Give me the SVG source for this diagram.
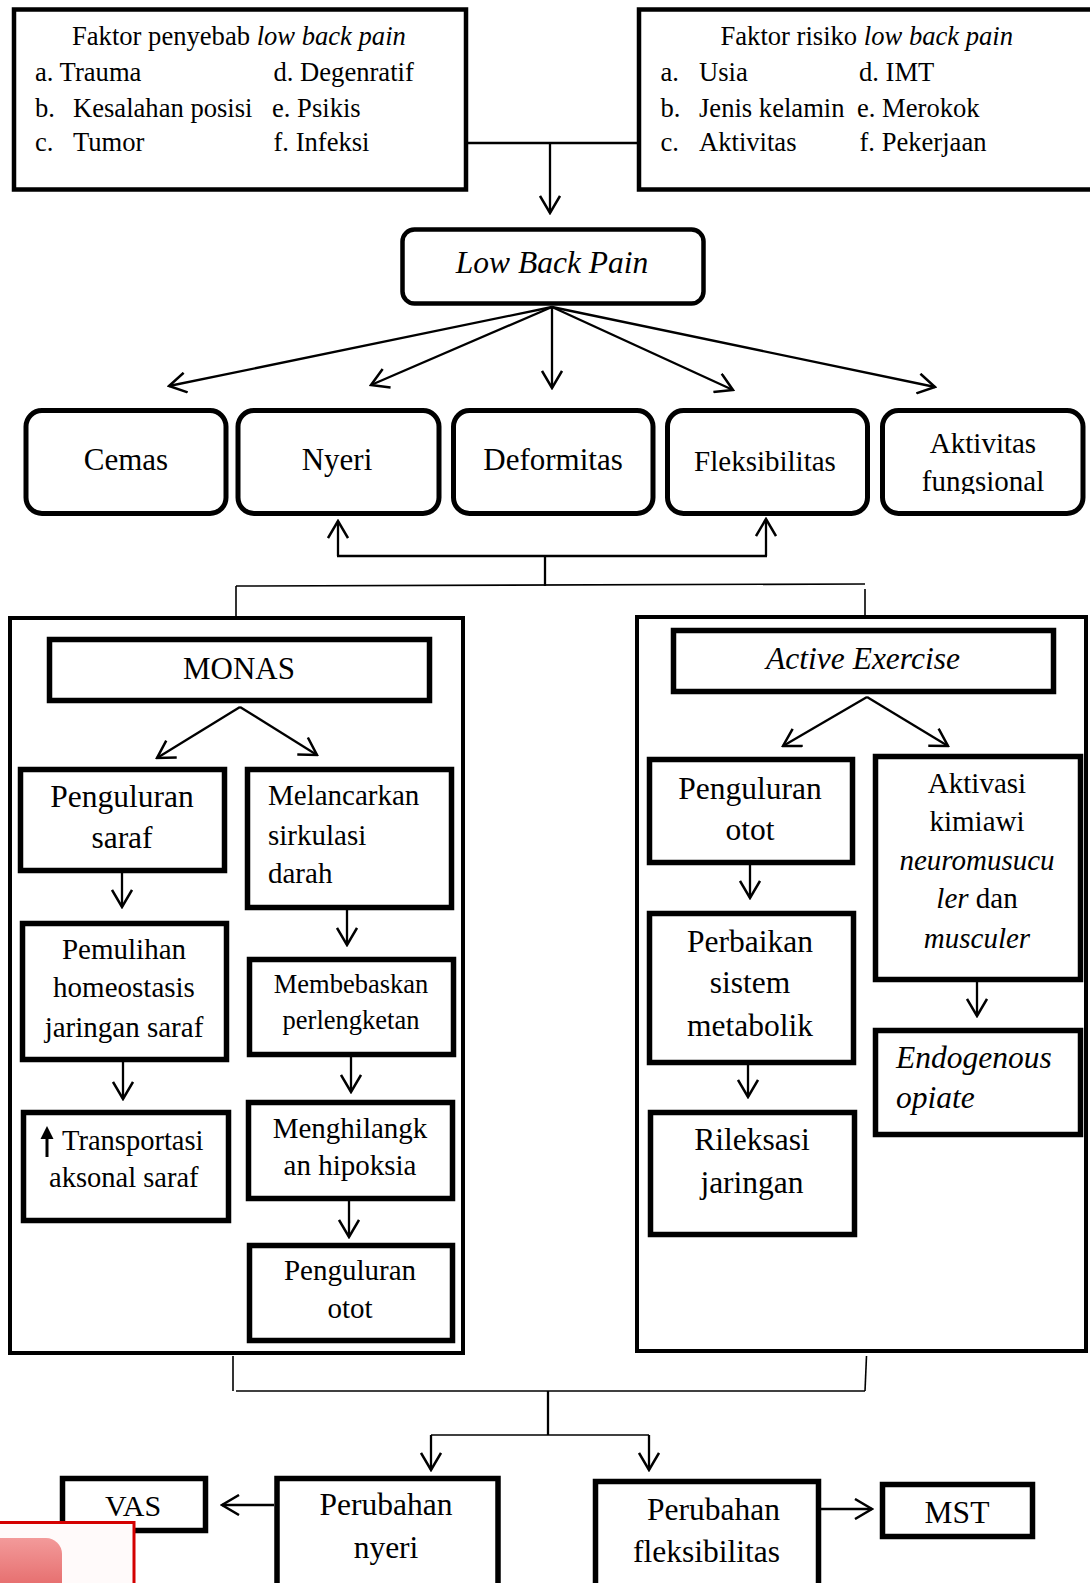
<svg xmlns="http://www.w3.org/2000/svg" width="1090" height="1583" viewBox="0 0 1090 1583">
<style>
text{font-family:"Liberation Serif","Times New Roman",serif;fill:#000}
.it{font-style:italic}
.c{text-anchor:middle}
.t26{font-size:26.6px}
.box{fill:#fff;stroke:#000;stroke-width:5.5}
.rbox{fill:#fff;stroke:#000;stroke-width:5}
.top{fill:#fff;stroke:#000;stroke-width:4.5}
.outer{fill:none;stroke:#000;stroke-width:4}
.ln{fill:none;stroke:#000;stroke-width:2.3}
.thin{fill:none;stroke:#000;stroke-width:1.6}
.ar{fill:none;stroke:#000;stroke-width:2.3;marker-end:url(#arr)}
</style>
<defs>
<marker id="arr" markerUnits="userSpaceOnUse" viewBox="0 0 20 22" refX="18" refY="11" markerWidth="20" markerHeight="22" orient="auto">
<path d="M1,1 L18,11 L1,21" fill="none" stroke="#000" stroke-width="2.5"/>
</marker>
<linearGradient id="pink" x1="0" y1="0" x2="0" y2="1">
<stop offset="0" stop-color="#f39a9a"/>
<stop offset="1" stop-color="#e05a5a"/>
</linearGradient>
<clipPath id="clipAkt"><rect x="880" y="408" width="206" height="86"/></clipPath>
</defs>
<rect width="1090" height="1583" fill="#fff"/>

<g id="connectors">
<line class="ln" x1="468" y1="143" x2="637" y2="143"/>
<line class="ar" x1="550" y1="143" x2="550" y2="213"/>
<line class="ar" x1="552" y1="307" x2="169" y2="386"/>
<line class="ar" x1="552" y1="307" x2="371" y2="385"/>
<line class="ar" x1="552" y1="307" x2="552" y2="388"/>
<line class="ar" x1="552" y1="307" x2="733" y2="390"/>
<line class="ar" x1="552" y1="307" x2="935" y2="387"/>
<line class="ln" x1="545" y1="586" x2="545" y2="556"/>
<line class="ln" x1="337" y1="556" x2="767" y2="556"/>
<line class="ar" x1="338" y1="556" x2="338" y2="521"/>
<line class="ar" x1="766" y1="556" x2="766" y2="519"/>
<line class="thin" x1="236" y1="586" x2="865" y2="584"/>
<line class="thin" x1="236" y1="586" x2="236" y2="616"/>
<line class="thin" x1="865" y1="589" x2="865" y2="615"/>
<line class="ar" x1="240" y1="707" x2="157" y2="758"/>
<line class="ar" x1="240" y1="707" x2="317" y2="755"/>
<line class="ar" x1="122" y1="873" x2="122" y2="907"/>
<line class="ar" x1="347" y1="910" x2="347" y2="945"/>
<line class="ar" x1="123" y1="1062" x2="123" y2="1099"/>
<line class="ar" x1="351" y1="1057" x2="351" y2="1092"/>
<line class="ar" x1="349" y1="1201" x2="349" y2="1237"/>
<line class="ar" x1="867" y1="697" x2="783" y2="746"/>
<line class="ar" x1="867" y1="697" x2="948" y2="746"/>
<line class="ar" x1="750" y1="865" x2="750" y2="898"/>
<line class="ar" x1="977" y1="982" x2="977" y2="1016"/>
<line class="ar" x1="748" y1="1065" x2="748" y2="1097"/>
<line class="thin" x1="233" y1="1356" x2="233" y2="1391"/>
<line class="thin" x1="236" y1="1391" x2="865" y2="1391"/>
<line class="thin" x1="866.5" y1="1356" x2="865" y2="1391"/>
<line class="ln" x1="548" y1="1391" x2="548" y2="1435"/>
<line class="thin" x1="431" y1="1435" x2="649" y2="1435"/>
<line class="ar" x1="431" y1="1435" x2="431" y2="1470"/>
<line class="ar" x1="649" y1="1435" x2="649" y2="1470"/>
<line class="ar" x1="274" y1="1505" x2="222" y2="1505"/>
<line class="ar" x1="821" y1="1509" x2="872" y2="1509"/>
</g>

<g id="faktor-penyebab">
<rect class="top" x="14" y="9.5" width="452" height="180"/>
<text class="t26" x="72" y="45">Faktor penyebab <tspan class="it">low back pain</tspan></text>
<text class="t26" x="35" y="81">a. Trauma</text>
<text class="t26" x="35" y="117">b.</text>
<text class="t26" x="73" y="117">Kesalahan posisi</text>
<text class="t26" x="35" y="151">c.</text>
<text class="t26" x="73" y="151">Tumor</text>
<text class="t26" x="273.5" y="81">d. Degenratif</text>
<text class="t26" x="272" y="117">e. Psikis</text>
<text class="t26" x="273.5" y="151">f. Infeksi</text>
</g>

<g id="faktor-risiko">
<rect class="top" x="639" y="9.5" width="460" height="180"/>
<text class="t26" x="720.5" y="45">Faktor risiko <tspan class="it">low back pain</tspan></text>
<text class="t26" x="660.5" y="81">a.</text>
<text class="t26" x="699" y="81">Usia</text>
<text class="t26" x="660.5" y="117">b.</text>
<text class="t26" x="699" y="117">Jenis kelamin</text>
<text class="t26" x="660.5" y="151">c.</text>
<text class="t26" x="699" y="151">Aktivitas</text>
<text class="t26" x="859" y="81">d. IMT</text>
<text class="t26" x="857" y="117">e. Merokok</text>
<text class="t26" x="859.5" y="151">f. Pekerjaan</text>
</g>

<g id="low-back-pain">
<rect class="top" x="402.5" y="229.5" width="301" height="74" rx="12"/>
<text class="c it" x="552" y="273" font-size="31.5">Low Back Pain</text>
</g>

<g id="cemas">
<rect class="rbox" x="26" y="410.5" width="200" height="103" rx="16"/>
<text class="c" x="126" y="470" font-size="31">Cemas</text>
</g>
<g id="nyeri">
<rect class="rbox" x="238" y="410.5" width="201" height="103" rx="16"/>
<text class="c" x="337" y="470" font-size="31">Nyeri</text>
</g>
<g id="deformitas">
<rect class="rbox" x="453.5" y="410.5" width="199.5" height="103" rx="16"/>
<text class="c" x="553" y="470" font-size="31">Deformitas</text>
</g>
<g id="fleksibilitas">
<rect class="rbox" x="667.5" y="410.5" width="200" height="103" rx="16"/>
<text class="c" x="765" y="471" font-size="29">Fleksibilitas</text>
</g>
<g id="aktivitas-fungsional">
<rect class="rbox" x="882.5" y="410.5" width="200.5" height="103" rx="16"/>
<text class="c" x="983" y="453" font-size="29">Aktivitas</text>
<text class="c" x="983" y="491" font-size="29" clip-path="url(#clipAkt)">fungsional</text>
</g>

<g id="monas-group">
<rect class="outer" x="10" y="618" width="453" height="735"/>
</g>
<g id="monas">
<rect class="box" x="49.5" y="639.5" width="380" height="61"/>
<text class="c" x="239" y="679" font-size="31">MONAS</text>
</g>
<g id="penguluran-saraf">
<rect class="box" x="20.5" y="769.5" width="204" height="101"/>
<text class="c" x="122" y="807" font-size="31.5">Penguluran</text>
<text class="c" x="122" y="848" font-size="31.5">saraf</text>
</g>
<g id="melancarkan">
<rect class="box" x="247.5" y="769.5" width="204" height="138"/>
<text x="268" y="805" font-size="29">Melancarkan</text>
<text x="268" y="845" font-size="29">sirkulasi</text>
<text x="268" y="883" font-size="29">darah</text>
</g>
<g id="pemulihan">
<rect class="box" x="22.5" y="923.5" width="204" height="136"/>
<text class="c" x="124" y="959" font-size="29">Pemulihan</text>
<text class="c" x="124" y="997" font-size="29">homeostasis</text>
<text class="c" x="124" y="1037" font-size="29">jaringan saraf</text>
</g>
<g id="membebaskan">
<rect class="box" x="249.5" y="959.5" width="204" height="95"/>
<text class="c" x="351" y="993" font-size="26.5">Membebaskan</text>
<text class="c" x="351" y="1029" font-size="26.5">perlengketan</text>
</g>
<g id="transportasi">
<rect class="box" x="23.5" y="1112.5" width="205" height="108"/>
<line x1="47" y1="1136" x2="47" y2="1157" stroke="#000" stroke-width="3"/>
<polygon points="47,1126 40.5,1139 53.5,1139" fill="#000"/>
<text x="62" y="1150" font-size="28.5">Transportasi</text>
<text x="49" y="1187" font-size="28.5">aksonal saraf</text>
</g>
<g id="menghilangkan">
<rect class="box" x="248.5" y="1102.5" width="204" height="96"/>
<text class="c" x="350" y="1138" font-size="29">Menghilangk</text>
<text class="c" x="350" y="1175" font-size="29">an hipoksia</text>
</g>
<g id="penguluran-otot-monas">
<rect class="box" x="249.5" y="1245.5" width="203" height="95"/>
<text class="c" x="350" y="1280" font-size="29">Penguluran</text>
<text class="c" x="350" y="1318" font-size="29">otot</text>
</g>

<g id="exercise-group">
<rect class="outer" x="637" y="617" width="449" height="734"/>
</g>
<g id="active-exercise">
<rect class="box" x="673.5" y="630.5" width="380" height="61"/>
<text class="c it" x="863" y="669" font-size="31.5">Active Exercise</text>
</g>
<g id="penguluran-otot">
<rect class="box" x="649.5" y="759.5" width="203" height="103"/>
<text class="c" x="750" y="799" font-size="31.5">Penguluran</text>
<text class="c" x="750" y="840" font-size="31.5">otot</text>
</g>
<g id="aktivasi">
<rect class="box" x="875.5" y="756.5" width="205" height="223"/>
<text class="c" x="977" y="793" font-size="29">Aktivasi</text>
<text class="c" x="977" y="831" font-size="29">kimiawi</text>
<text class="c it" x="977" y="870" font-size="29">neuromusucu</text>
<text class="c" x="977" y="908" font-size="29"><tspan class="it">ler</tspan> dan</text>
<text class="c it" x="977" y="948" font-size="29">musculer</text>
</g>
<g id="perbaikan">
<rect class="box" x="649.5" y="913.5" width="204" height="149"/>
<text class="c" x="750" y="952" font-size="31.5">Perbaikan</text>
<text class="c" x="750" y="993" font-size="31.5">sistem</text>
<text class="c" x="750" y="1036" font-size="31.5">metabolik</text>
</g>
<g id="endogenous">
<rect class="box" x="875.5" y="1030.5" width="205" height="104"/>
<text class="it" x="896" y="1068" font-size="31.5">Endogenous</text>
<text class="it" x="896" y="1108" font-size="31.5">opiate</text>
</g>
<g id="rileksasi">
<rect class="box" x="650.5" y="1112.5" width="204" height="122"/>
<text class="c" x="752" y="1150" font-size="31.5">Rileksasi</text>
<text class="c" x="752" y="1193" font-size="31.5">jaringan</text>
</g>

<g id="vas">
<rect class="box" x="62.5" y="1478.5" width="143" height="52"/>
<text class="c" x="133" y="1516" font-size="30">VAS</text>
</g>
<g id="perubahan-nyeri">
<rect class="box" x="277" y="1478.5" width="221" height="120"/>
<text class="c" x="386" y="1515" font-size="31.5">Perubahan</text>
<text class="c" x="386" y="1558" font-size="31.5">nyeri</text>
</g>
<g id="perubahan-fleksibilitas">
<rect class="box" x="595.5" y="1481.5" width="223" height="120"/>
<text class="c" x="713.5" y="1520" font-size="31.5">Perubahan</text>
<text class="c" x="706.5" y="1562" font-size="31.5">fleksibilitas</text>
</g>
<g id="mst">
<rect class="box" x="882.5" y="1484.5" width="150" height="52"/>
<text class="c" x="957" y="1523" font-size="31.5">MST</text>
</g>

<g id="overlay">
<rect x="-3" y="1522.5" width="137" height="70" fill="#fffafa" stroke="#d40000" stroke-width="3"/>
<rect x="-20" y="1538" width="82" height="70" rx="16" fill="url(#pink)"/>
</g>
</svg>
